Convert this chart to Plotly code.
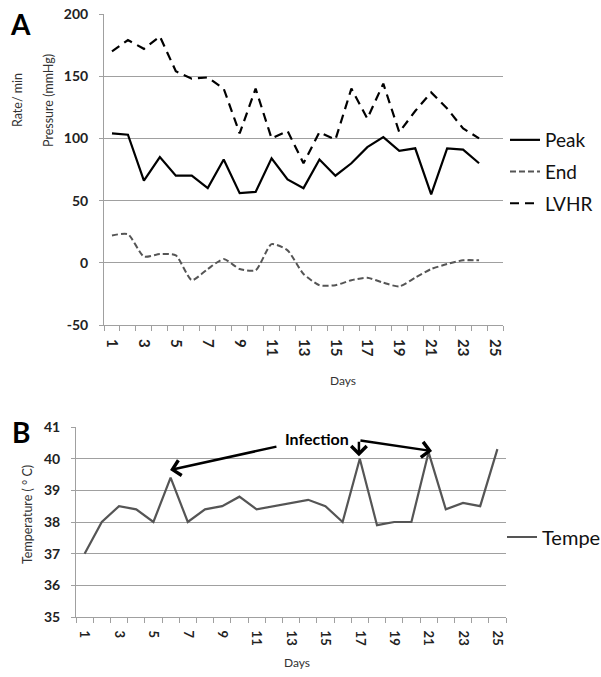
import plotly.graph_objects as go

days_a = list(range(1, 25))
peak = [104, 103, 66, 85, 70, 70, 60, 83, 56, 57, 84, 67, 60, 83, 70, 80, 93, 101, 90, 92, 55, 92, 91, 80]
end = [22, 23, 5, 7, 6, -14, -5, 3, -5, -6, 15, 10, -9, -18, -18, -14, -12, -16, -19, -12, -5, -1, 2, 2]
lvhr = [170, 179, 172, 182, 154, 148, 149, 140, 104, 140, 100, 106, 80, 105, 99, 140, 116, 144, 105, 122, 137, 124, 108, 100]

days_b = list(range(1, 26))
temp = [37, 38, 38.5, 38.4, 38, 39.4, 38, 38.4, 38.5, 38.8, 38.4, 38.5, 38.6, 38.7, 38.5, 38, 40, 37.9, 38, 38, 40.2, 38.4, 38.6, 38.5, 40.3]

tick_days = list(range(1, 26, 2))
tick_labels = [str(d) for d in tick_days]
yticks_a = [-50, 0, 50, 100, 150, 200]
yticks_a_labels = ["-50", "0", "50", "100", "150", "200"]
yticks_b = [35, 36, 37, 38, 39, 40, 41]
yticks_b_labels = ["35", "36", "37", "38", "39", "40", "41"]

W, H = 601, 677
FONT = "Lato"
GRID = "#a0a0a0"

fig = go.Figure()
fig.add_trace(go.Scatter(x=days_a, y=peak, name="Peak", mode="lines",
                         line=dict(color="black", width=2.2), legend="legend", legendgroup="a"))
fig.add_trace(go.Scatter(x=days_a, y=end, name="End", mode="lines",
                         line=dict(color="#555555", width=2, dash="6px,3px", shape="spline", smoothing=0.6),
                         legend="legend", legendgroup="b"))
fig.add_trace(go.Scatter(x=days_a, y=lvhr, name="LVHR", mode="lines",
                         line=dict(color="black", width=2.2, dash="9px,6px"), legend="legend", legendgroup="c"))
fig.add_trace(go.Scatter(x=days_b, y=temp, name="Temperature", mode="lines",
                         line=dict(color="#555555", width=2.2), xaxis="x2", yaxis="y2", legend="legend2"))

common_x = dict(range=[0.5, 25.5], tickmode="array", tickvals=tick_days, ticktext=tick_labels,
                tickangle=90, ticks="", showgrid=False, showline=True, linecolor=GRID, linewidth=1,
                zeroline=False, ticklabelstandoff=10,
                minor=dict(tickmode="array", tickvals=[i + 0.5 for i in range(0, 26)],
                           ticks="outside", ticklen=5, tickcolor=GRID, showgrid=False))

fig.update_layout(
    width=W, height=H,
    margin=dict(l=0, r=0, t=0, b=0, autoexpand=False),
    paper_bgcolor="white", plot_bgcolor="white",
    font=dict(family=FONT, color="#222222"),
    hovermode=False,
    xaxis=dict(domain=[104 / W, 503 / W], anchor="y",
               tickfont=dict(family=FONT, size=15, color="#222", weight="bold"), **common_x),
    yaxis=dict(domain=[1 - 325 / H, 1 - 14 / H], range=[-50, 200], tickmode="array",
               tickvals=yticks_a, ticktext=yticks_a_labels, anchor="x",
               showgrid=True, gridcolor=GRID, gridwidth=1, zeroline=False, ticklabelstandoff=8,
               showline=True, linecolor=GRID, ticks="outside", ticklen=4, tickcolor=GRID,
               tickfont=dict(family=FONT, size=14, color="#222", weight="bold")),
    xaxis2=dict(domain=[76 / W, 506 / W], anchor="y2",
                tickfont=dict(family=FONT, size=13, color="#222", weight="bold"), **common_x),
    yaxis2=dict(domain=[1 - 617 / H, 1 - 427 / H], range=[35, 41], tickmode="array",
                tickvals=yticks_b, ticktext=yticks_b_labels, anchor="x2",
                showgrid=True, gridcolor=GRID, gridwidth=1, zeroline=False, ticklabelstandoff=8,
                showline=True, linecolor=GRID, ticks="outside", ticklen=4, tickcolor=GRID,
                tickfont=dict(family=FONT, size=14, color="#222", weight="bold")),
    legend=dict(x=505 / W, xanchor="left", y=1 - 121 / H, yanchor="top",
                font=dict(family=FONT, size=19, color="#111"), tracegroupgap=4,
                bgcolor="rgba(0,0,0,0)", itemwidth=30),
    legend2=dict(x=502 / W, xanchor="left", y=1 - 537 / H, yanchor="middle",
                 font=dict(family=FONT, size=20, color="#111"),
                 bgcolor="rgba(0,0,0,0)", itemwidth=30),
    showlegend=True,
)

ann = []
def paper(xp, yp):
    return xp / W, 1 - yp / H

for txt, xp, yp, size, color, bold, angle in [
    ("A", 21, 24, 28, "black", True, 0),
    ("B", 21, 432, 28, "black", True, 0),
    ("Rate/ min", 17, 100, 12.5, "#333", False, -90),
    ("Pressure (mmHg)", 48, 101, 12.5, "#333", False, -90),
    ("Days", 343, 381, 12, "#333", False, 0),
    ("Temperature ( ° C)", 27, 515, 12.5, "#333", False, -90),
    ("Days", 297, 662, 12, "#333", False, 0),
]:
    px, py = paper(xp, yp)
    ann.append(dict(text=("<b>%s</b>" % txt) if bold else txt, x=px, y=py, xref="paper", yref="paper",
                    xanchor="center", yanchor="middle", showarrow=False, textangle=angle,
                    font=dict(family=FONT, size=size, color=color)))

ann.append(dict(text="<b>Infection</b>", x=14.5, y=40.65, xref="x2", yref="y2", showarrow=False,
                font=dict(family=FONT, size=16, color="black")))
for (tx, ty, hx, hy) in [(12.24, 40.39, 5.97, 39.64), (16.95, 40.58, 16.95, 40.08), (16.95, 40.58, 21.2, 40.24)]:
    ann.append(dict(text="", x=hx, y=hy, ax=tx, ay=ty, xref="x2", yref="y2", axref="x2", ayref="y2",
                    showarrow=True, arrowhead=4, arrowsize=1.2, arrowwidth=2.5, arrowcolor="black"))

fig.update_layout(annotations=ann)
fig.write_html("out.html", config={"displayModeBar": False, "staticPlot": True},
               post_script="document.body.style.margin='0';document.body.style.overflow='hidden';")
